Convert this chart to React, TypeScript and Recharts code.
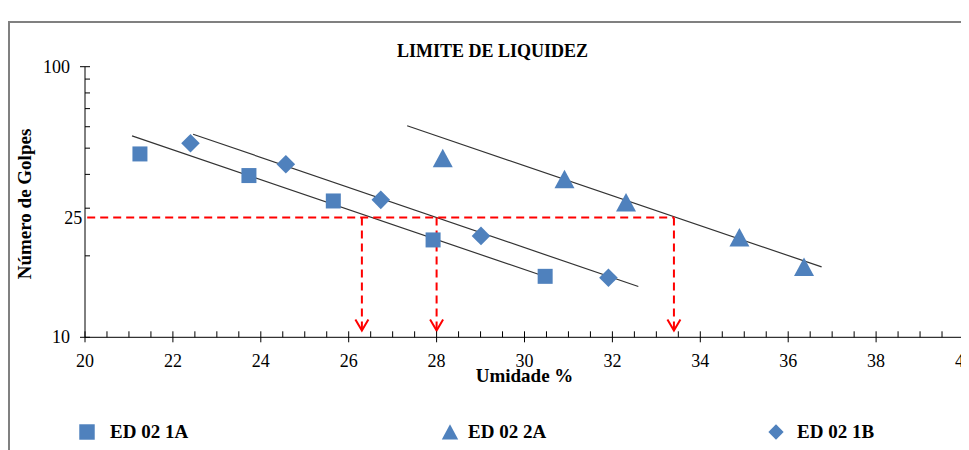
import { Label, ReferenceDot, ReferenceLine, Scatter, ScatterChart, XAxis, YAxis } from "recharts";

const SERIF = '"Liberation Serif", "Times New Roman", serif';
const BLUE = "#4F81BD";
const RED = "#FF0000";
const serifStyle = { fontFamily: SERIF };

// pontos (umidade %, nº de golpes)
const ed021A = [
  { x: 21.25, y: 47.6 },
  { x: 23.73, y: 39.6 },
  { x: 25.65, y: 31.9 },
  { x: 27.92, y: 22.9 },
  { x: 30.47, y: 16.8 },
];
const ed022A = [
  { x: 28.14, y: 45.9 },
  { x: 30.91, y: 38.4 },
  { x: 32.31, y: 31.5 },
  { x: 34.89, y: 23.4 },
  { x: 36.36, y: 18.2 },
];
const ed021B = [
  { x: 22.4, y: 52.1 },
  { x: 24.57, y: 43.6 },
  { x: 26.73, y: 32.2 },
  { x: 29.01, y: 23.7 },
  { x: 31.91, y: 16.6 },
];

// linhas de tendência (início / fim)
const trend1A = [
  { x: 21.07, y: 55.5 },
  { x: 30.5, y: 16.7 },
];
const trend2A = [
  { x: 27.33, y: 60.5 },
  { x: 36.76, y: 18.2 },
];
const trend1B = [
  { x: 22.46, y: 56.3 },
  { x: 32.59, y: 15.4 },
];

// limite de liquidez: linha de 25 golpes e leituras de umidade
const golpesLevel = 27.7;
const golpesLabel = "25";
const golpesStart = 20.05;
const arrowTip = 10.6;
const liquidLimits = [26.3, 28.0, 33.4];

const xLabels = [20, 22, 24, 26, 28, 30, 32, 34, 36, 38, 40];
const xTicks = xLabels.flatMap((v) => (v < 40 ? [v, v + 0.5, v + 1, v + 1.5] : [v]));
const yTicks = [10, 20, 30, 40, 50, 60, 70, 80, 90, 100];
const yLabels = [10, 100];

const legendItems = [
  { name: "ED 02 1A", shape: "square", icon: 79, text: 102 },
  { name: "ED 02 2A", shape: "triangle", icon: 442, text: 460 },
  { name: "ED 02 1B", shape: "diamond", icon: 767.5, text: 789 },
];

function Marker({ kind, cx, cy, s = 1 }: { kind: string; cx: number; cy: number; s?: number }) {
  if (kind === "square") {
    const h = 7.5 * s;
    return <rect x={cx - h} y={cy - h} width={2 * h} height={2 * h} fill={BLUE} />;
  }
  if (kind === "triangle") {
    return (
      <path
        d={`M${cx},${cy - 9.5 * s} L${cx + 10 * s},${cy + 9 * s} L${cx - 10 * s},${cy + 9 * s} Z`}
        fill={BLUE}
      />
    );
  }
  const r = 9.3 * s;
  return <path d={`M${cx},${cy - r} L${cx + r},${cy} L${cx},${cy + r} L${cx - r},${cy} Z`} fill={BLUE} />;
}

const shapeOf = (kind: string) => (props: any) => <Marker kind={kind} cx={props.cx} cy={props.cy} />;

function XTick({ x, y, payload }: any) {
  const major = xLabels.includes(payload.value);
  return (
    <g>
      <line x1={x} x2={x} y1={y - 6} y2={major ? y + 5 : y} stroke="#000" />
      {major && (
        <text x={x} y={y + 30} textAnchor="middle" fontSize={18} style={serifStyle} fill="#000">
          {payload.value}
        </text>
      )}
    </g>
  );
}

function YTick({ x, y, payload }: any) {
  const major = yLabels.includes(payload.value);
  return (
    <g>
      <line x1={major ? x - 5 : x} x2={x + 5} y1={y} y2={y} stroke="#000" />
      {major && (
        <text x={x - 15} y={y + 6} textAnchor="end" fontSize={18} style={serifStyle} fill="#000">
          {payload.value}
        </text>
      )}
    </g>
  );
}

function XTitle({ viewBox }: any) {
  const cx = viewBox.x + viewBox.width / 2;
  const y = viewBox.y + 44.5;
  return (
    <text x={cx} y={y} textAnchor="middle" fontSize={19} fontWeight="bold" style={serifStyle} fill="#000">
      Umidade %
    </text>
  );
}

function YTitle({ viewBox }: any) {
  const cx = viewBox.x + viewBox.width - 54;
  const cy = viewBox.y + viewBox.height / 2 + 2;
  return (
    <text
      x={cx}
      y={cy}
      transform={`rotate(-90 ${cx} ${cy})`}
      textAnchor="middle"
      fontSize={19}
      fontWeight="bold"
      style={serifStyle}
      fill="#000"
    >
      Número de Golpes
    </text>
  );
}

function GolpesTag({ viewBox }: any) {
  return (
    <text x={viewBox.x - 5} y={viewBox.y + 6} textAnchor="end" fontSize={18} style={serifStyle} fill="#000">
      {golpesLabel}
    </text>
  );
}

function Arrow(props: any) {
  const { cx, cy } = props;
  return (
    <path d={`M${cx - 6.5},${cy - 11} L${cx},${cy} L${cx + 6.5},${cy - 11}`} fill="none" stroke={RED} strokeWidth={2} />
  );
}

export default function App() {
  return (
    <div
      style={{
        position: "relative",
        width: 961,
        height: 442,
        overflow: "hidden",
        background: "#fff",
        fontFamily: SERIF,
      }}
    >
      <div
        style={{
          position: "absolute",
          left: 0,
          top: 13,
          width: 961,
          height: 429,
          borderTop: "2px solid #808080",
          borderLeft: "2px solid #808080",
          boxSizing: "border-box",
        }}
      />
      <div
        style={{
          position: "absolute",
          left: 0,
          top: 34,
          width: 969,
          textAlign: "center",
          fontSize: 18,
          lineHeight: "18px",
          fontWeight: "bold",
        }}
      >
        LIMITE DE LIQUIDEZ
      </div>
      <ScatterChart
        width={961}
        height={442}
        margin={{ top: 58.7, right: 5, bottom: 72.7, left: 37 }}
        style={{ position: "absolute", left: 0, top: 0, fontFamily: SERIF }}
      >
        <XAxis
          type="number"
          dataKey="x"
          domain={[20, 40]}
          ticks={xTicks}
          interval={0}
          height={40}
          tickSize={0}
          tickMargin={0}
          tickLine={false}
          tick={<XTick />}
          axisLine={{ stroke: "#000" }}
          allowDataOverflow
        >
          <Label content={<XTitle />} />
        </XAxis>
        <YAxis
          type="number"
          dataKey="y"
          scale="log"
          domain={[10, 100]}
          ticks={yTicks}
          interval={0}
          width={40}
          tickSize={0}
          tickMargin={0}
          tickLine={false}
          tick={<YTick />}
          axisLine={{ stroke: "#000" }}
          allowDataOverflow
        >
          <Label content={<YTitle />} />
        </YAxis>

        <ReferenceLine segment={trend1A} stroke="#333" strokeWidth={1.2} ifOverflow="visible" />
        <ReferenceLine segment={trend1B} stroke="#333" strokeWidth={1.2} ifOverflow="visible" />
        <ReferenceLine segment={trend2A} stroke="#333" strokeWidth={1.2} ifOverflow="visible" />

        <ReferenceLine
          segment={[
            { x: golpesStart, y: golpesLevel },
            { x: liquidLimits[2], y: golpesLevel },
          ]}
          stroke={RED}
          strokeWidth={2}
          strokeDasharray="8 5"
          ifOverflow="visible"
          label={<GolpesTag />}
        />
        {liquidLimits.map((v) => (
          <ReferenceLine
            key={`v${v}`}
            segment={[
              { x: v, y: golpesLevel },
              { x: v, y: arrowTip },
            ]}
            stroke={RED}
            strokeWidth={2}
            strokeDasharray="8 5"
            ifOverflow="visible"
          />
        ))}
        {liquidLimits.map((v) => (
          <ReferenceDot key={`a${v}`} x={v} y={arrowTip} shape={Arrow} ifOverflow="visible" />
        ))}

        <Scatter name="ED 02 1A" data={ed021A} shape={shapeOf("square")} isAnimationActive={false} />
        <Scatter name="ED 02 2A" data={ed022A} shape={shapeOf("triangle")} isAnimationActive={false} />
        <Scatter name="ED 02 1B" data={ed021B} shape={shapeOf("diamond")} isAnimationActive={false} />
      </ScatterChart>

      {legendItems.map((item) => (
        <div key={item.name}>
          <svg style={{ position: "absolute", left: item.icon - 10, top: 413.5 }} width={20} height={20}>
            <Marker kind={item.shape} cx={10} cy={10} s={item.shape === "square" ? 1.03 : 0.82} />
          </svg>
          <div
            style={{
              position: "absolute",
              left: item.text,
              top: 411.5,
              height: 24,
              lineHeight: "24px",
              fontSize: 19,
              fontWeight: "bold",
              whiteSpace: "nowrap",
            }}
          >
            {item.name}
          </div>
        </div>
      ))}
    </div>
  );
}
